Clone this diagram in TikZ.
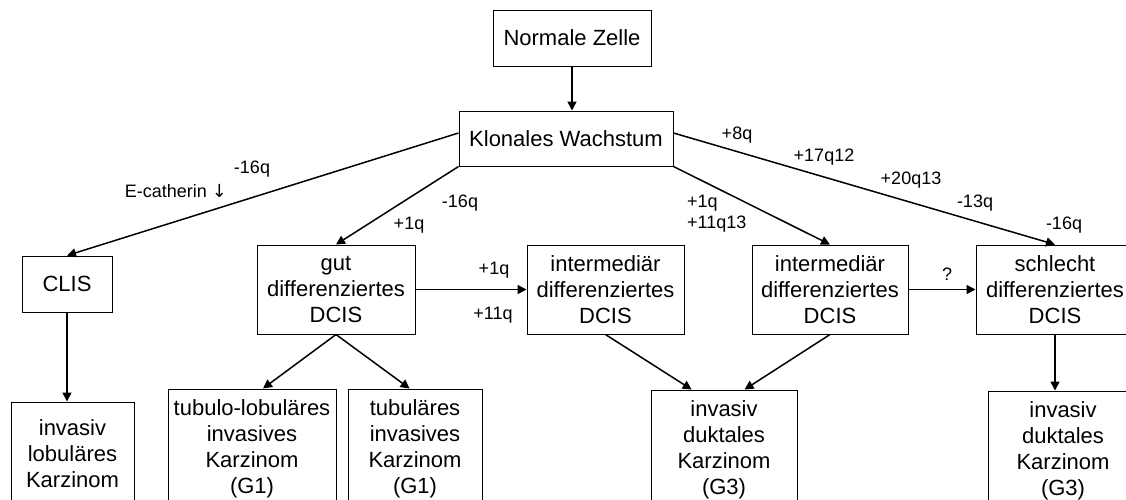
\documentclass[tikz,border=0pt]{standalone}
\usepackage{fontspec}
\setmainfont{Liberation Sans}
\newfontfamily\dejavu{DejaVu Sans}
\usetikzlibrary{arrows.meta,calc}
\begin{document}
\begin{tikzpicture}[x=1pt,y=-1pt,
  box/.style={draw,line width=1pt,align=center,inner sep=0pt,font=\fontsize{22}{26}\selectfont},
  conn/.style={line width=1.5pt,-{Triangle[length=9pt,width=9pt]}},
  lab/.style={inner sep=0pt,font=\fontsize{18}{21}\selectfont}]
\useasboundingbox (0,0) rectangle (1126,499);
\clip (0,0) rectangle (1126,499);
% boxes
\node[box,minimum width=158pt,minimum height=56pt] (nz) at (572,38) {Normale Zelle};
\node[box,minimum width=214pt,minimum height=55pt] (kw) at (566,138.5) {Klonales Wachstum};
\node[box,minimum width=90pt,minimum height=56pt] (clis) at (67,284) {CLIS};
\node[box,minimum width=158pt,minimum height=89pt] (gut) at (336,289.5) {gut\\differenziertes\\DCIS};
\node[box,minimum width=157pt,minimum height=89pt] (im1) at (605.5,289.5) {intermediär\\differenziertes\\DCIS};
\node[box,minimum width=156pt,minimum height=89pt] (im2) at (830,289.5) {intermediär\\differenziertes\\DCIS};
\node[box,minimum width=158pt,minimum height=89pt] (sd) at (1055,289.5) {schlecht\\differenziertes\\DCIS};
\node[box,minimum width=123pt,minimum height=104pt] (il) at (72.5,454) {invasiv\\lobuläres\\Karzinom};
\node[box,minimum width=168pt,minimum height=119pt] (tl) at (252,448.5) {tubulo-lobuläres\\invasives\\Karzinom\\(G1)};
\node[box,minimum width=134pt,minimum height=119pt] (tu) at (415,448.5) {tubuläres\\invasives\\Karzinom\\(G1)};
\node[box,minimum width=146pt,minimum height=119pt] (id1) at (724,449.5) {invasiv\\duktales\\Karzinom\\(G3)};
\node[box,minimum width=150pt,minimum height=119pt] (id2) at (1063,450.5) {invasiv\\duktales\\Karzinom\\(G3)};
% connectors
\draw[conn] (nz.south) -- (nz.south |- kw.north);
\draw[conn] ([yshift=5.5pt]kw.west) -- (clis.north);
\draw[conn] (kw.south west) -- (gut.north);
\draw[conn] (kw.south east) -- (im2.north);
\draw[conn] ([yshift=5.5pt]kw.east) -- (sd.north);
\draw[conn] (gut.east) -- (im1.west);
\draw[conn] (im2.east) -- (sd.west);
\draw[conn] (clis.south) -- (clis.south |- il.north);
\draw[conn] (gut.south) -- ($(tl.north west)!0.565!(tl.north east)$);
\draw[conn] (gut.south) -- ($(tu.north west)!0.46!(tu.north east)$);
\draw[conn] (im1.south) -- ($(id1.north west)!0.28!(id1.north east)$);
\draw[conn] (im2.south) -- ($(id1.north west)!0.64!(id1.north east)$);
\draw[conn] (sd.south) -- (sd.south |- id2.north);
% labels
\node[lab] (l1) at (252,169) {-16q};
\node[lab] (l2) at (176,191) {E-catherin {\dejavu ↓}};
\node[lab] (l3) at (460,203) {-16q};
\node[lab] (l4) at (409,225) {+1q};
\node[lab] (l5) at (494,270) {+1q};
\node[lab] (l6) at (493,315) {+11q};
\node[lab,anchor=west] (l7) at (687,203) {+1q};
\node[lab,anchor=west] (l8) at (687,224) {+11q13};
\node[lab] (l9) at (737,135) {+8q};
\node[lab] (l10) at (824,157) {+17q12};
\node[lab] (l11) at (911,180) {+20q13};
\node[lab] (l12) at (975,203) {-13q};
\node[lab] (l13) at (1064,225) {-16q};
\node[lab] (l14) at (947,274) {?};
\end{tikzpicture}
\end{document}
